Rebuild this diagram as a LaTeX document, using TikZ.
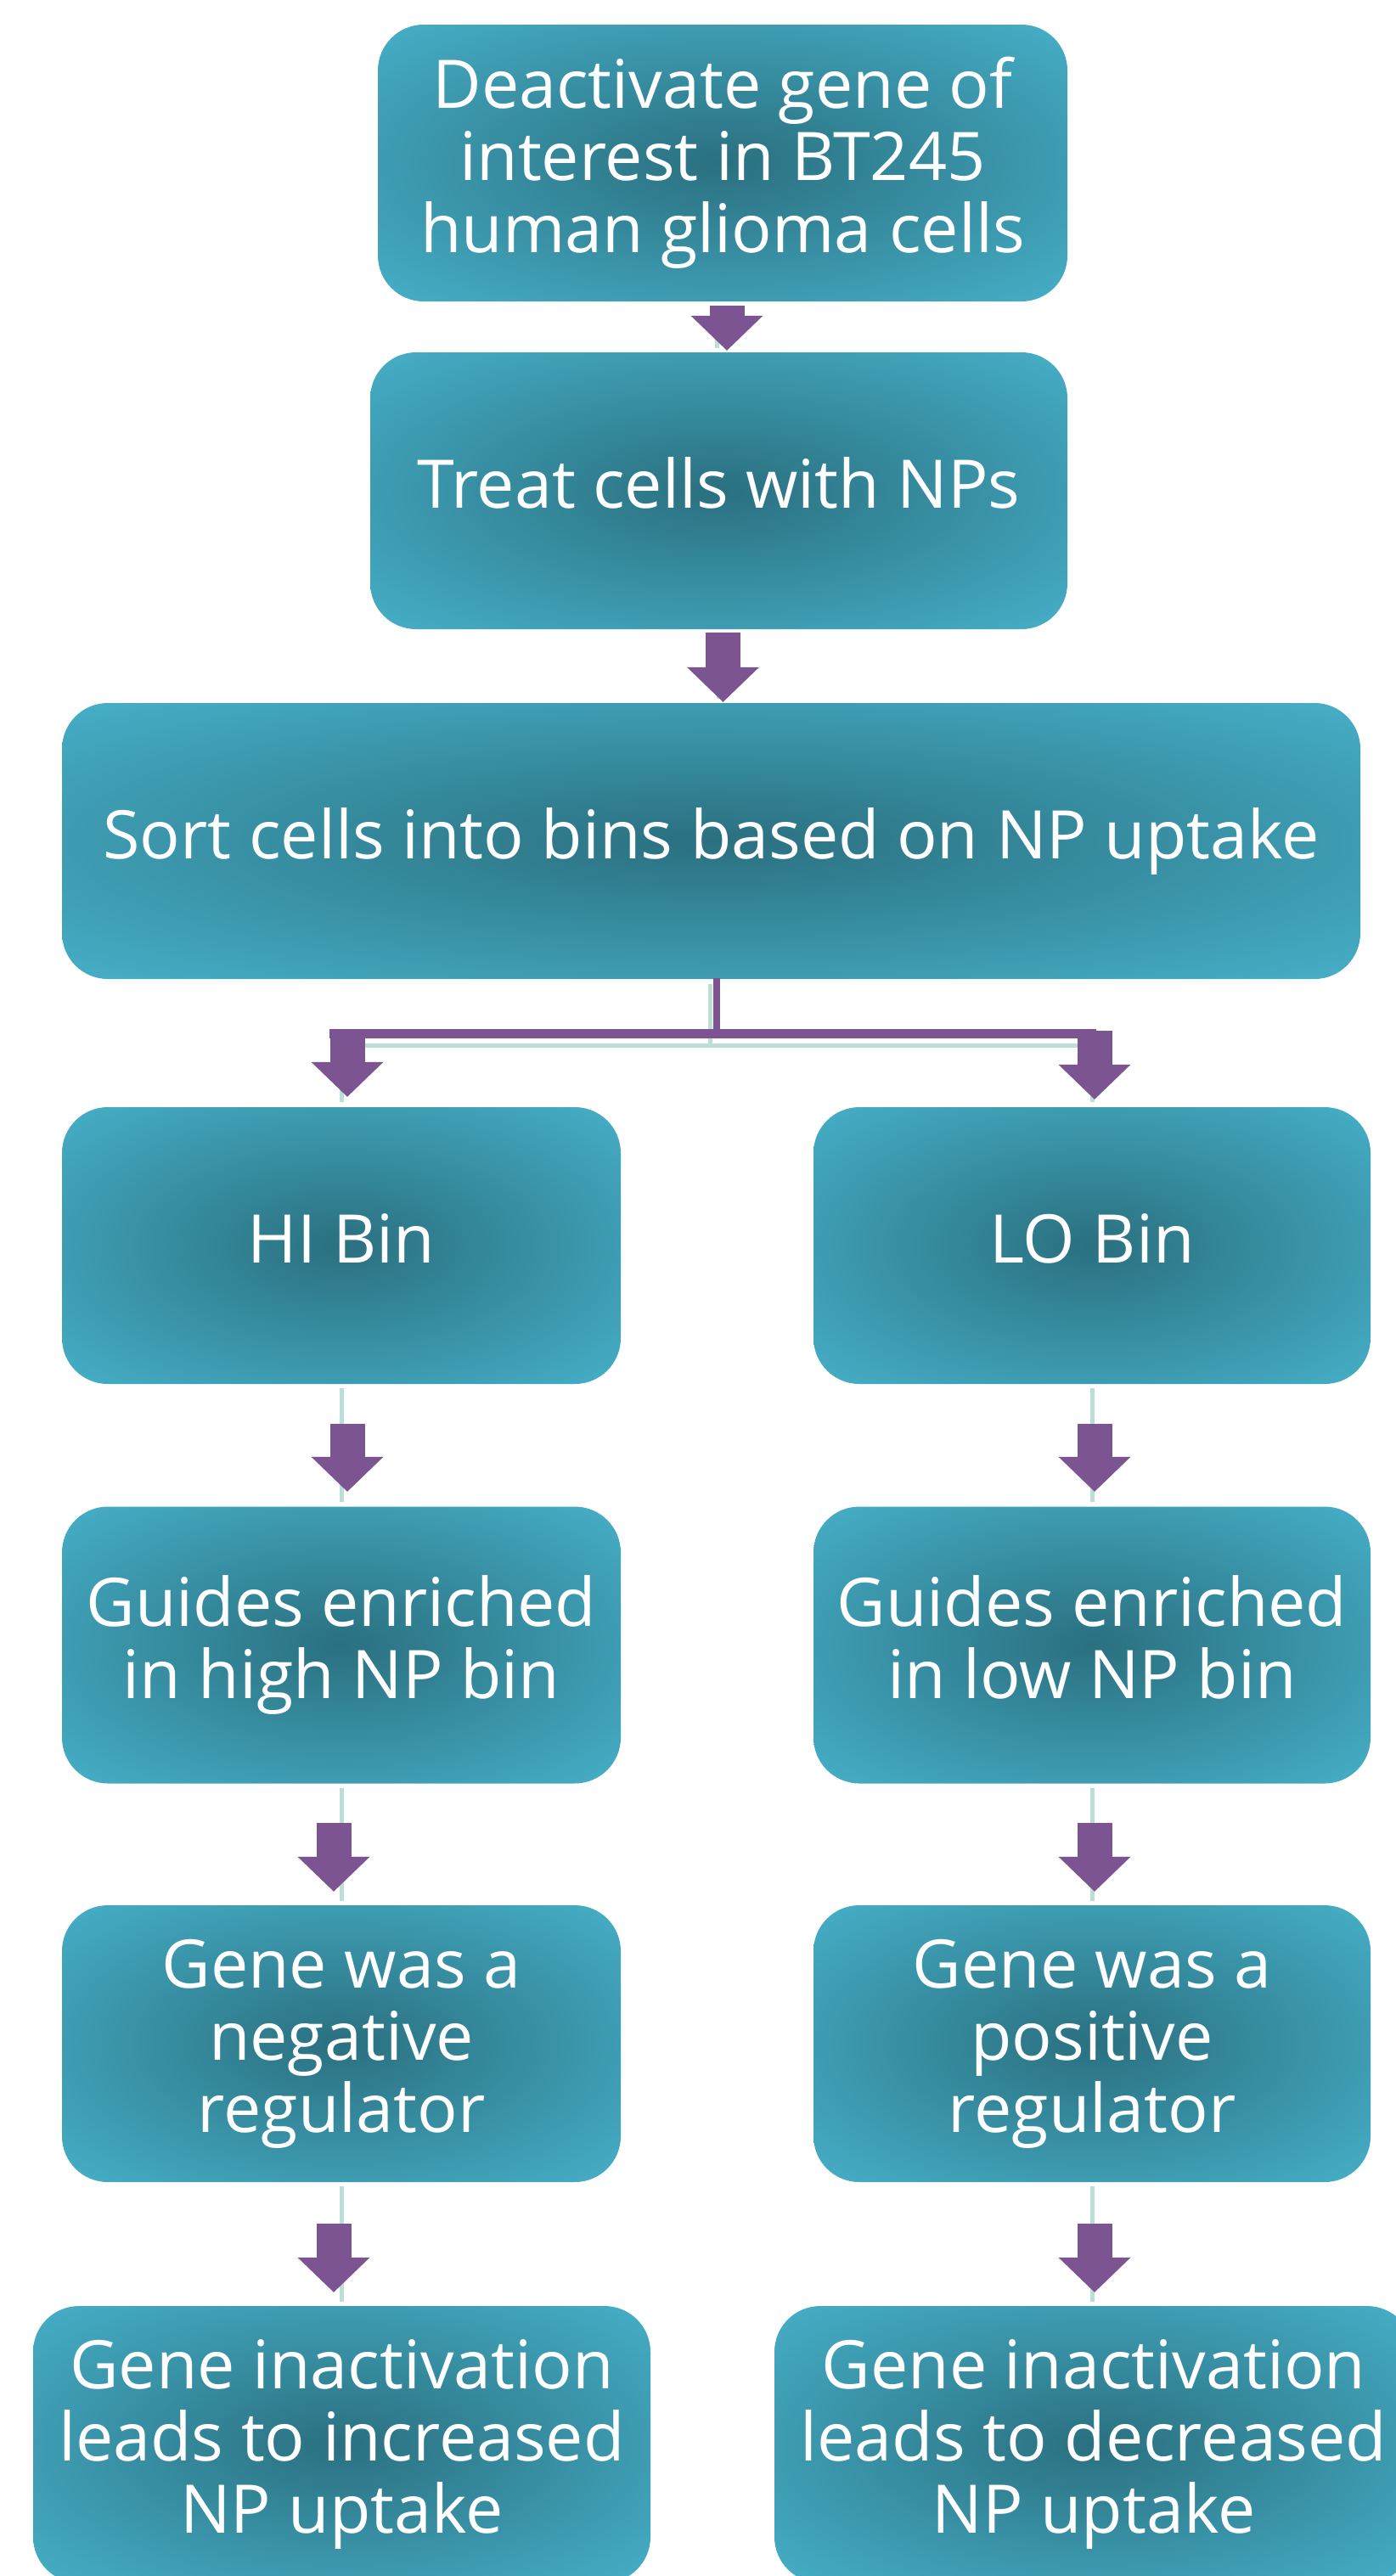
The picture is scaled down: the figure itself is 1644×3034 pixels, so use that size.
\documentclass[tikz,border=0pt]{standalone}
\usepackage{fontspec}
\setmainfont{Open Sans}
\usetikzlibrary{arrows.meta}

\definecolor{tealdark}{RGB}{42,112,128}
\definecolor{teallight}{RGB}{72,180,205}
\definecolor{arrowpurple}{RGB}{125,84,146}
\definecolor{guidegreen}{RGB}{187,223,215}

% radial glow: dark teal in the middle, light teal towards the rim
\pgfdeclareradialshading{boxglow}{\pgfpoint{0bp}{0bp}}{%
  color(0bp)=(tealdark); color(38bp)=(teallight); color(80bp)=(teallight)}

\tikzset{
  stepbox/.style={rounded corners=54pt, shading=boxglow, inner sep=0pt,
    text=white, align=center, font=\fontsize{79}{85}\selectfont,
    minimum height=326pt, execute at end node={\vphantom{lp}}},
  flow/.style={draw=arrowpurple, line width=41pt,
    -{Triangle[width=85pt,length=41pt,line width=0pt]}},
  barline/.style={draw=arrowpurple},
  guide/.style={draw=guidegreen, line width=5pt},
}

\begin{document}
\begin{tikzpicture}[x=1pt,y=-1pt]
\useasboundingbox (0,0) rectangle (1644,3034);
\clip (0,0) rectangle (1644,3034);
\fill[white] (0,0) rectangle (1644,3034);

% process boxes
\node[stepbox, minimum width=812pt] (n1) at (851,192)
  {Deactivate gene of\\interest in BT245\\human glioma cells};
\node[stepbox, minimum width=821pt] (n2) at (846.5,578) {Treat cells with NPs};
\node[stepbox, minimum width=1529pt, minimum height=325pt] (n3) at (837.5,990.5)
  {Sort cells into bins based on NP uptake};

\node[stepbox, minimum width=658pt] (hi) at (402,1467) {HI Bin};
\node[stepbox, minimum width=656pt] (lo) at (1286,1467) {LO Bin};
\node[stepbox, minimum width=658pt] (hig) at (402,1937.5) {Guides enriched\\in high NP bin};
\node[stepbox, minimum width=656pt] (log) at (1286,1937.5) {Guides enriched\\in low NP bin};
\node[stepbox, minimum width=658pt] (hir) at (402,2407) {Gene was a\\negative\\regulator};
\node[stepbox, minimum width=656pt] (lor) at (1286,2407) {Gene was a\\positive\\regulator};
\node[stepbox, minimum width=727pt] (hio) at (402.5,2879)
  {Gene inactivation\\leads to increased\\NP uptake};
\node[stepbox, minimum width=752pt] (loo) at (1288,2879)
  {Gene inactivation\\leads to decreased\\NP uptake};

% faint guide lines behind the arrows
\draw[guide] ([xshift=-6.5pt,yshift=-5pt]n1.south) -- ([xshift=-6.5pt,yshift=5pt]n1.south |- n2.north);
\draw[guide] ([yshift=-4pt]n2.south) -- ([yshift=5pt]n2.south |- n3.north);
\coordinate (gmid) at ([xshift=-1.5pt]n3.south |- 0,1231.5);
\draw[guide] ([xshift=-1.5pt,yshift=-6pt]n3.south) -- (gmid);
\draw[guide] (hi.north |- gmid) -- (lo.north |- gmid);
\draw[guide] (hi.north |- gmid) -- ([yshift=6pt]hi.north);
\draw[guide] (lo.north |- gmid) -- ([yshift=6pt]lo.north);
\foreach \a/\b in {hi/hig, hig/hir, hir/hio, lo/log, log/lor, lor/loo}
  \draw[guide] ([yshift=-5pt]\a.south) -- ([yshift=5pt]\a.south |- \b.north);

% arrows down the trunk
\draw[flow, shorten <=5pt, shorten >=2pt]
  ([xshift=5pt]n1.south) -- ([xshift=5pt]n1.south |- n2.north);
\draw[flow, shorten <=4pt, shorten >=1pt]
  ([xshift=5pt]n2.south) -- ([xshift=5pt]n2.south |- n3.north);

% split into the two bins
\coordinate (hub) at ([xshift=6.5pt]n3.south |- 0,1217.5);
\coordinate (hiin) at ([xshift=7pt]hi.north |- hub);
\coordinate (loin) at ([xshift=3pt]lo.north |- hub);
\draw[barline, line width=8pt] ([yshift=1pt]n3.south -| hub) -- ([yshift=-5.5pt]hub);
\draw[barline, line width=11pt] ([xshift=-21pt]hiin) -- ([xshift=2pt]loin);
\draw[flow, shorten >=12pt] ([yshift=5.5pt]hiin) -- ([xshift=7pt]hi.north);
\draw[flow, shorten >=9pt] ([yshift=3.5pt]loin) -- ([xshift=3pt]lo.north);

% arrows down each column
\draw[flow, shorten <=47pt, shorten >=17.5pt] ([xshift=7pt]hi.south) -- ([xshift=7pt]hi.south |- hig.north);
\draw[flow, shorten <=46.5pt, shorten >=16pt] ([xshift=-9pt]hig.south) -- ([xshift=-9pt]hig.south |- hir.north);
\draw[flow, shorten <=49pt, shorten >=16pt] ([xshift=-9pt]hir.south) -- ([xshift=-9pt]hir.south |- hio.north);
\draw[flow, shorten <=47pt, shorten >=17.5pt] ([xshift=3pt]lo.south) -- ([xshift=3pt]lo.south |- log.north);
\draw[flow, shorten <=46.5pt, shorten >=16pt] ([xshift=3pt]log.south) -- ([xshift=3pt]log.south |- lor.north);
\draw[flow, shorten <=49pt, shorten >=16pt] ([xshift=3pt]lor.south) -- ([xshift=3pt]lor.south |- loo.north);
\end{tikzpicture}
\end{document}
